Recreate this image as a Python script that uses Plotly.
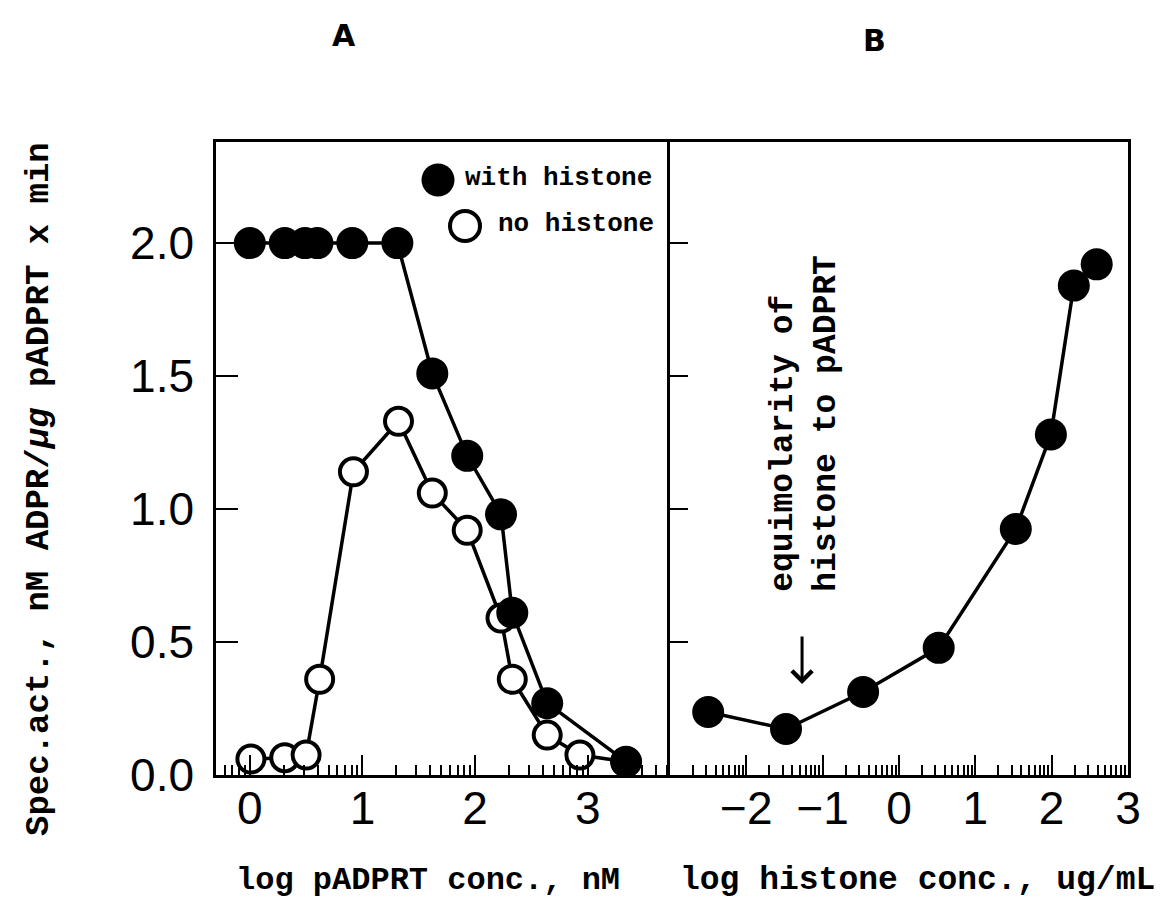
import plotly.graph_objects as go
import numpy as np

# ---- data ----
# Panel A: log pADPRT conc. (nM)
a_with_x = [0.0, 0.31, 0.49, 0.60, 0.91, 1.31, 1.62, 1.93, 2.23, 2.33, 2.64, 3.34]
a_with_y = [2.0, 2.0, 2.0, 2.0, 2.0, 2.0, 1.51, 1.20, 0.98, 0.61, 0.27, 0.05]
a_none_x = [0.01, 0.31, 0.50, 0.62, 0.92, 1.32, 1.62, 1.93, 2.23, 2.33, 2.64, 2.93, 3.34]
a_none_y = [0.06, 0.065, 0.075, 0.36, 1.14, 1.33, 1.06, 0.92, 0.59, 0.36, 0.15, 0.075, 0.05]
# Panel B: log histone conc. (ug/mL)
b_x = [-2.50, -1.48, -0.47, 0.52, 1.53, 1.99, 2.29, 2.59]
b_y = [0.237, 0.173, 0.312, 0.478, 0.925, 1.28, 1.84, 1.92]

y_ticks = [0, 0.5, 1.0, 1.5, 2.0]
y_ticktext = ["0.0", "0.5", "1.0", "1.5", "2.0"]
a_ticks = [0, 1, 2, 3]
a_ticktext = ["0", "1", "2", "3"]
b_ticks = [-2, -1, 0, 1, 2, 3]
b_ticktext = ["\u22122", "\u22121", "0", "1", "2", "3"]

legend_labels = ["with histone", "no histone"]

equimolar_x = -1.27
arrow_tip_y, arrow_tail_y = 0.342, 0.526

MONO = "Liberation Mono"
SANS = "Liberation Sans"

# plot-area geometry (pixels)
L, R, T, B = 208, 1120, 134, 767
W, H = R - L, B - T


def px(x):
    return (x - L) / W


def py(y):
    return (B - y) / H


def minor_vals(lo, hi):
    vals = []
    for n in range(int(np.floor(lo)) - 1, int(np.ceil(hi)) + 1):
        for k in range(2, 10):
            v = n + np.log10(k)
            if lo - 1e-9 <= v <= hi + 1e-9:
                vals.append(float(v))
    return vals


xa_range = [-0.30, 3.73]
xb_range = [-3.0, 3.0]
y_range = [0, 2.38]

fig = go.Figure()

line_style = dict(color="black", width=3.5)

fig.add_trace(go.Scatter(
    x=a_none_x, y=a_none_y, mode="lines+markers", name=legend_labels[1],
    line=line_style,
    marker=dict(symbol="circle", size=27, color="white", line=dict(color="black", width=4)),
    xaxis="x", yaxis="y", showlegend=False,
))
fig.add_trace(go.Scatter(
    x=a_with_x, y=a_with_y, mode="lines+markers", name=legend_labels[0],
    line=line_style,
    marker=dict(symbol="circle", size=32, color="black"),
    xaxis="x", yaxis="y", showlegend=False,
))
fig.add_trace(go.Scatter(
    x=b_x, y=b_y, mode="lines+markers", name="with histone (B)",
    line=line_style,
    marker=dict(symbol="circle", size=32, color="black"),
    xaxis="x2", yaxis="y2", showlegend=False,
))

split = (662 - L) / W

base_axis = dict(
    showline=True, linecolor="black", linewidth=2.5,
    showgrid=False, zeroline=False, ticks="inside", tickcolor="black",
)
tick_font = dict(family=SANS, size=46, color="black")

fig.update_layout(
    width=1165, height=900,
    paper_bgcolor="white", plot_bgcolor="white",
    margin=dict(l=L, r=1165 - R, t=T, b=900 - B),
    showlegend=False,
    xaxis=dict(
        domain=[0, split], range=xa_range, tickmode="array",
        tickvals=a_ticks, ticktext=a_ticktext, ticklen=20, tickwidth=2,
        tickfont=tick_font, ticklabelstandoff=-9, mirror=True,
        minor=dict(tickmode="array", tickvals=minor_vals(*xa_range), ticks="inside",
                   ticklen=10, tickwidth=1.5, tickcolor="black"),
        anchor="y", **base_axis,
    ),
    yaxis=dict(
        domain=[0, 1], range=y_range, tickmode="array",
        tickvals=y_ticks, ticktext=y_ticktext, ticklen=22, tickwidth=2,
        tickfont=tick_font, ticklabelstandoff=10, mirror=False,
        anchor="x", **base_axis,
    ),
    xaxis2=dict(
        domain=[split, 1], range=xb_range, tickmode="array",
        tickvals=b_ticks, ticktext=b_ticktext, ticklen=20, tickwidth=2,
        tickfont=tick_font, ticklabelstandoff=-9, mirror=True,
        minor=dict(tickmode="array", tickvals=minor_vals(*xb_range), ticks="inside",
                   ticklen=10, tickwidth=1.5, tickcolor="black"),
        anchor="y2", **base_axis,
    ),
    yaxis2=dict(
        domain=[0, 1], range=y_range, tickmode="array",
        tickvals=y_ticks, ticklen=18, tickwidth=2, showticklabels=False, mirror=True,
        anchor="x2", **base_axis,
    ),
)

title_font = dict(family=MONO, size=32, color="black", weight="bold")
legend_font = dict(family=MONO, size=26, color="black", weight="bold")
letter_font = dict(family="DejaVu Sans", size=30, color="black", weight="bold")

annotations = [
    dict(text="A", x=px(336), y=py(27), font=letter_font),
    dict(text="B", x=px(866), y=py(33), font=letter_font),
    dict(text="log pADPRT conc., nM", x=px(420), y=py(872), font=title_font),
    dict(text="log histone conc., ug/mL", x=px(909), y=py(872),
         font=dict(title_font, size=33)),
    dict(text="Spec.act., nM ADPR/<i>\u03bcg</i> pADPRT x min", x=px(31), y=py(481),
         textangle=-90, font=dict(family=MONO, size=34, color="black", weight="bold")),
    dict(text=legend_labels[0], x=px(646), y=py(170), xanchor="right", font=legend_font),
    dict(text=legend_labels[1], x=px(648), y=py(216), xanchor="right", font=legend_font),
]
for a in annotations:
    a.update(xref="paper", yref="paper", showarrow=False)
    a.setdefault("xanchor", "center")
    a.setdefault("yanchor", "middle")

annotations += [
    dict(text="equimolarity of<br>histone to pADPRT", xref="x2", yref="y2",
         x=equimolar_x + 0.04, y=0.68, xanchor="center", yanchor="bottom",
         textangle=-90, align="left", showarrow=False,
         font=dict(family=MONO, size=33, color="black", weight="bold")),
    dict(text="", xref="x2", yref="y2", x=equimolar_x, y=arrow_tip_y,
         axref="x2", ayref="y2", ax=equimolar_x, ay=arrow_tail_y,
         showarrow=True, arrowhead=4, arrowsize=1.3, arrowwidth=3, arrowcolor="black"),
]
fig.update_layout(annotations=annotations)

# legend keys (filled / open circle) drawn next to the legend labels
fig.update_layout(shapes=[
    dict(type="circle", xref="paper", yref="paper", xsizemode="pixel", ysizemode="pixel",
         xanchor=px(430), yanchor=py(172), x0=-16.5, x1=16.5, y0=-16.5, y1=16.5,
         fillcolor="black", line=dict(width=0)),
    dict(type="circle", xref="paper", yref="paper", xsizemode="pixel", ysizemode="pixel",
         xanchor=px(457), yanchor=py(218), x0=-15, x1=15, y0=-15, y1=15,
         fillcolor="white", line=dict(color="black", width=4)),
])

fig.write_html("out.html")
